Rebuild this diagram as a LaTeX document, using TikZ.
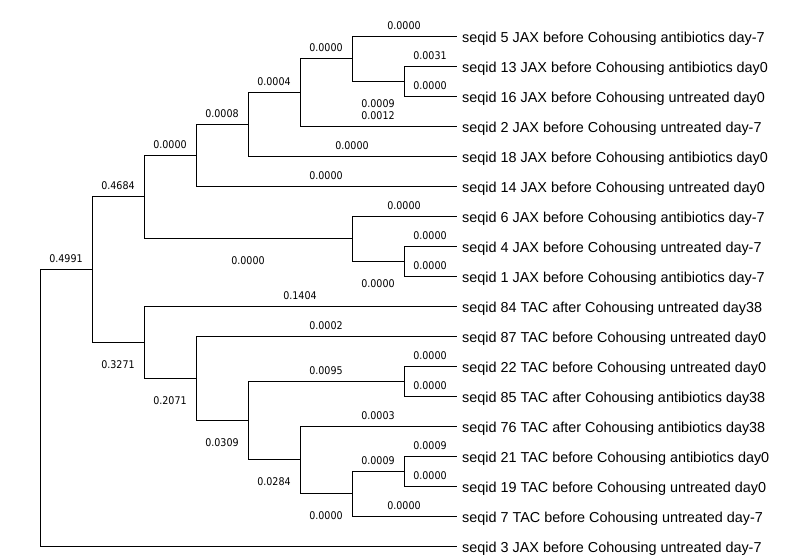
\documentclass[tikz,border=0pt]{standalone}
\usepackage{fontspec}
\setmainfont{Liberation Sans}
\newfontfamily\lenfont{DejaVu Sans Condensed}
\usetikzlibrary{positioning}
\tikzset{
  branch/.style={line width=1pt,line cap=rect},
  leaf/.style={anchor=base west,inner sep=0pt,xshift=6pt,yshift=-6pt,font=\fontsize{14.4}{16}\selectfont},
  lenup/.style={pos=0.75,anchor=base,inner sep=0pt,yshift=7pt,font=\lenfont\fontsize{10.6}{12}\selectfont},
  lendown/.style={pos=0.75,anchor=base,inner sep=0pt,yshift=-26pt,font=\lenfont\fontsize{10.6}{12}\selectfont}
}

\begin{document}
\begin{tikzpicture}[x=1pt,y=-1pt]
  \useasboundingbox (0,0) rectangle (812,560);
  % leaf tips and taxon names
  \foreach \n/\y/\t in {s5/36/seqid 5 JAX before Cohousing antibiotics day-7,
      s13/66/seqid 13 JAX before Cohousing antibiotics day0,
      s16/96/seqid 16 JAX before Cohousing untreated day0,
      s2/126/seqid 2 JAX before Cohousing untreated day-7,
      s18/156/seqid 18 JAX before Cohousing antibiotics day0,
      s14/186/seqid 14 JAX before Cohousing untreated day0,
      s6/216/seqid 6 JAX before Cohousing antibiotics day-7,
      s4/246/seqid 4 JAX before Cohousing untreated day-7,
      s1/276/seqid 1 JAX before Cohousing antibiotics day-7,
      s84/306/seqid 84 TAC after Cohousing untreated day38,
      s87/336/seqid 87 TAC before Cohousing untreated day0,
      s22/366/seqid 22 TAC before Cohousing untreated day0,
      s85/396/seqid 85 TAC after Cohousing antibiotics day38,
      s76/426/seqid 76 TAC after Cohousing antibiotics day38,
      s21/456/seqid 21 TAC before Cohousing antibiotics day0,
      s19/486/seqid 19 TAC before Cohousing untreated day0,
      s7/516/seqid 7 TAC before Cohousing untreated day-7,
      s3/546/seqid 3 JAX before Cohousing untreated day-7}
  {
    \coordinate (\n) at (456,\y);
    \node[leaf] (name-\n) at (\n) {\t};
  }
  % internal nodes (JAX clade)
  \coordinate (nA) at (404,81);
  \coordinate (nB) at (352,58.5);
  \coordinate (nC) at (300,92.25);
  \coordinate (nD) at (248,124.13);
  \coordinate (nE) at (196,155.06);
  \coordinate (nG) at (404,261);
  \coordinate (nF) at (352,238.5);
  \coordinate (nH) at (144,196.78);
  % internal nodes (TAC clade)
  \coordinate (nI) at (404,381);
  \coordinate (nJ) at (404,471);
  \coordinate (nK) at (352,493.5);
  \coordinate (nL) at (300,459.75);
  \coordinate (nM) at (248,420.38);
  \coordinate (nN) at (196,378.19);
  \coordinate (nO) at (144,342.09);
  \coordinate (nP) at (92,269.44);
  \coordinate (root) at (40,407.72);
  % branches with lengths
  \draw[branch] (nA) |- node[lenup]{0.0031} (s13);
  \draw[branch] (nA) |- node[lenup]{0.0000} (s16);
  \draw[branch] (nB) |- node[lenup]{0.0000} (s5);
  \draw[branch] (nB) |- node[lendown]{0.0009} (nA);
  \draw[branch] (nC) |- node[lenup]{0.0000} (nB);
  \draw[branch] (nC) |- node[lenup]{0.0012} (s2);
  \draw[branch] (nD) |- node[lenup]{0.0004} (nC);
  \draw[branch] (nD) |- node[lenup]{0.0000} (s18);
  \draw[branch] (nE) |- node[lenup]{0.0008} (nD);
  \draw[branch] (nE) |- node[lenup]{0.0000} (s14);
  \draw[branch] (nG) |- node[lenup]{0.0000} (s4);
  \draw[branch] (nG) |- node[lenup]{0.0000} (s1);
  \draw[branch] (nF) |- node[lenup]{0.0000} (s6);
  \draw[branch] (nF) |- node[lendown]{0.0000} (nG);
  \draw[branch] (nH) |- node[lenup]{0.0000} (nE);
  \draw[branch] (nH) |- node[lendown]{0.0000} (nF);
  \draw[branch] (nI) |- node[lenup]{0.0000} (s22);
  \draw[branch] (nI) |- node[lenup]{0.0000} (s85);
  \draw[branch] (nJ) |- node[lenup]{0.0009} (s21);
  \draw[branch] (nJ) |- node[lenup]{0.0000} (s19);
  \draw[branch] (nK) |- node[lenup]{0.0009} (nJ);
  \draw[branch] (nK) |- node[lenup]{0.0000} (s7);
  \draw[branch] (nL) |- node[lenup]{0.0003} (s76);
  \draw[branch] (nL) |- node[lendown]{0.0000} (nK);
  \draw[branch] (nM) |- node[lenup]{0.0095} (nI);
  \draw[branch] (nM) |- node[lendown]{0.0284} (nL);
  \draw[branch] (nN) |- node[lenup]{0.0002} (s87);
  \draw[branch] (nN) |- node[lendown]{0.0309} (nM);
  \draw[branch] (nO) |- node[lenup]{0.1404} (s84);
  \draw[branch] (nO) |- node[lendown]{0.2071} (nN);
  \draw[branch] (nP) |- node[lenup]{0.4684} (nH);
  \draw[branch] (nP) |- node[lendown]{0.3271} (nO);
  \draw[branch] (root) |- node[lenup]{0.4991} (nP);
  \draw[branch] (root) |- (s3);
\end{tikzpicture}
\end{document}
